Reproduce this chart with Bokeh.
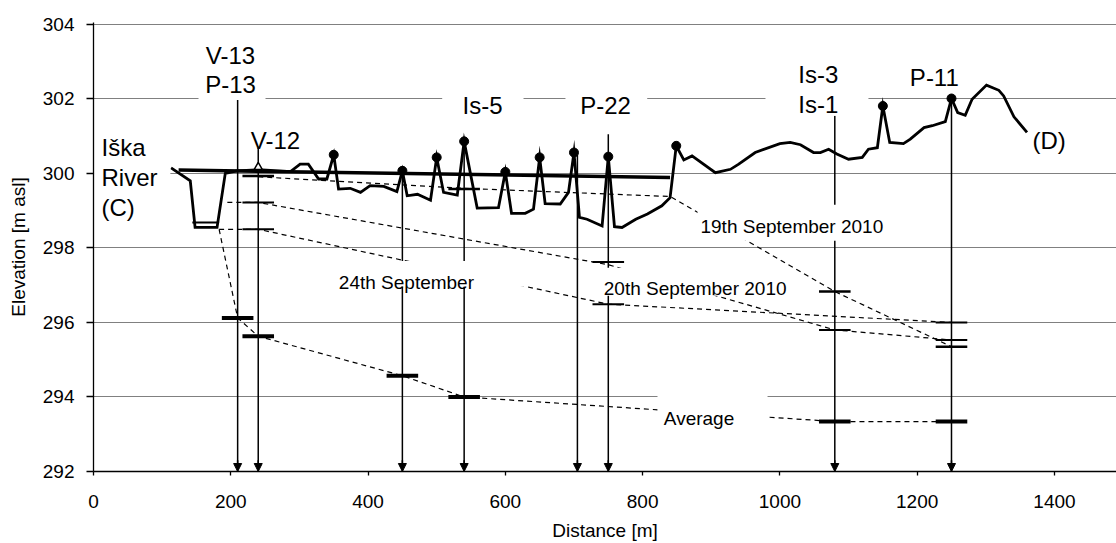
from bokeh.plotting import figure
from bokeh.models import Range1d, FixedTicker, Label, Arrow, NormalHead, ColumnDataSource
from bokeh.embed import file_html
from bokeh.resources import INLINE

# ---------------- data ----------------
terrain_x = [113, 141, 148, 180, 192, 209, 240, 287, 301, 313, 328, 340, 350, 357, 374, 389, 403, 423, 442, 450,
             457, 472, 491, 500, 510, 530, 540, 559, 590, 600, 609, 629, 641, 650, 658, 680, 692, 700, 708, 719,
             741, 750, 759, 770, 790, 807, 828, 840, 849, 860, 872, 906, 928, 940, 964, 1000, 1015, 1030, 1049, 1059,
             1071, 1083, 1100, 1120, 1129, 1142, 1150, 1160, 1180, 1190, 1210, 1222, 1241, 1250, 1259, 1270, 1280,
             1301, 1319, 1326, 1341, 1360]
terrain_y = [300.15, 299.8, 298.55, 298.55, 300.0, 300.07, 300.1, 300.05, 300.25, 300.25, 299.85, 299.85, 300.5,
             299.58, 299.6, 299.49, 299.67, 299.65, 299.51, 300.07, 299.4, 299.44, 299.28, 300.43, 299.49, 299.42,
             300.86, 299.07, 299.08, 300.04, 298.93, 298.93, 299.04, 300.43, 299.19, 299.18, 299.49, 300.56, 298.82,
             298.77, 298.59, 300.45, 298.57, 298.55, 298.77, 298.91, 299.13, 299.35, 300.74, 300.36, 300.47, 300.02,
             300.11, 300.25, 300.56, 300.8, 300.83, 300.77, 300.56, 300.56, 300.65, 300.52, 300.38, 300.43, 300.65,
             300.69, 301.81, 300.83, 300.8, 300.92, 301.23, 301.28, 301.39, 302.01, 301.63, 301.56, 301.99, 302.37,
             302.23, 302.08, 301.52, 301.1]

peak_x = [350, 450, 500, 540, 600, 650, 700, 750, 849, 1150, 1250]
peak_y = [300.5, 300.07, 300.43, 300.86, 300.04, 300.43, 300.56, 300.45, 300.74, 301.81, 302.01]

bank_x = [124, 840]
bank_y = [300.09, 299.89]

river_level_x = [144, 183]
river_level_y = [298.68, 298.68]

v12_mark_x = [240]
v12_mark_y = [300.17]

well_x = [210, 240, 450, 540, 705, 750, 1080, 1250]
well_top = [302.0, 300.69, 300.07, 300.86, 300.5, 301.05, 301.55, 302.01]

# water levels per date (dashed lines) and measured levels (bars)
line19_x = [240, 540, 840, 1080, 1250]
line19_y = [299.91, 299.6, 299.38, 296.83, 295.35]
bar19_x = [240, 540, 1080, 1250]
bar19_y = [299.93, 299.58, 296.83, 295.35]

line20_x = [195, 240, 750, 1080, 1250]
line20_y = [299.22, 299.22, 297.55, 295.8, 295.53]
bar20_x = [240, 750, 1080, 1250]
bar20_y = [299.22, 297.62, 295.8, 295.53]

line24_x = [183, 240, 750, 1250]
line24_y = [298.5, 298.5, 296.49, 296.0]
bar24_x = [240, 750, 1250]
bar24_y = [298.5, 296.49, 296.0]

avg_x = [183, 210, 240, 450, 540, 1080, 1250]
avg_y = [298.5, 296.12, 295.63, 294.57, 294.0, 293.34, 293.34]
baravg_x = [210, 240, 450, 540, 1080, 1250]
baravg_y = [296.12, 295.63, 294.57, 294.0, 293.34, 293.34]

y_ticks = [292, 294, 296, 298, 300, 302, 304]
x_ticks = [0, 200, 400, 600, 800, 1000, 1200, 1400]

FONT = "Liberation Sans"

# ---------------- figure ----------------
p = figure(width=1116, height=543, output_backend="svg", toolbar_location=None,
           x_range=Range1d(0, 1490.4), y_range=Range1d(292, 304.05),
           min_border_left=93, min_border_right=0, min_border_top=22, min_border_bottom=72)
p.outline_line_color = None
p.background_fill_color = "white"
p.border_fill_color = "white"

p.xgrid.grid_line_color = None
p.ygrid.ticker = FixedTicker(ticks=y_ticks)
p.ygrid.grid_line_color = "#808080"
p.ygrid.grid_line_width = 1.2

for ax in (p.xaxis[0], p.yaxis[0]):
    ax.axis_line_color = "black"
    ax.axis_line_width = 1.3
    ax.major_tick_line_color = "black"
    ax.major_tick_line_width = 1.3
    ax.minor_tick_line_color = None
    ax.major_tick_in = 0
    ax.major_label_text_font = FONT
    ax.major_label_text_font_size = "19px"
    ax.major_label_text_color = "black"
    ax.axis_label_text_font = FONT
    ax.axis_label_text_font_size = "19px"
    ax.axis_label_text_font_style = "normal"
    ax.axis_label_text_color = "black"

p.xaxis.ticker = FixedTicker(ticks=x_ticks)
p.yaxis.ticker = FixedTicker(ticks=y_ticks)
p.xaxis.major_tick_out = 4
p.yaxis.major_tick_out = 7
p.xaxis.major_label_standoff = 19
p.yaxis.major_label_standoff = 12
p.xaxis.axis_label = "Distance [m]"
p.yaxis.axis_label = "Elevation [m asl]"
p.xaxis.axis_label_standoff = 9
p.yaxis.axis_label_standoff = 11

# dashed water-table lines
dash = "5 4"
for lx, ly in ((line19_x, line19_y), (line20_x, line20_y), (line24_x, line24_y), (avg_x, avg_y)):
    p.line(lx, ly, line_color="black", line_width=1.2, line_dash=dash)

# measured level bars
HALF = 23
def bars(bx, by, w):
    p.segment(x0=[x - HALF for x in bx], y0=by, x1=[x + HALF for x in bx], y1=by,
              line_color="black", line_width=w)

bars(bar19_x, bar19_y, 2.5)
bars(bar20_x, bar20_y, 2)
bars(bar24_x, bar24_y, 2)
bars(baravg_x, baravg_y, 4)
p.line(river_level_x, river_level_y, line_color="black", line_width=2)

# wells
p.segment(x0=well_x, y0=well_top, x1=well_x, y1=[292] * len(well_x), line_color="black", line_width=1.5)

# terrain and bank line
p.line(terrain_x, terrain_y, line_color="black", line_width=2.8, line_join="miter")
p.line(bank_x, bank_y, line_color="black", line_width=3.5)
p.scatter(peak_x, peak_y, size=9, marker="circle", fill_color="black", line_color="black")
p.scatter(v12_mark_x, v12_mark_y, size=8, marker="triangle", fill_color="white", line_color="black", line_width=1.5)

# white boxes behind labels
box_l = [153, 508, 687.6, 979, 0.8, 880, 342, 735.7, 821.7]
box_r = [250.6, 626.5, 806.7, 1129, 112, 1158, 632, 1013, 982]
box_b = [301.97, 301.63, 301.63, 301.55, 298.86, 298.19, 296.96, 296.72, 293.09]
box_t = [303.83, 302.43, 302.43, 303.6, 301.41, 299.16, 297.65, 297.47, 294.09]
p.quad(left=box_l, right=box_r, bottom=box_b, top=box_t, fill_color="white", line_color=None)

# arrow heads at the bottom of the wells
src = ColumnDataSource(dict(x=well_x, y0=[292.3] * len(well_x), y1=[292.0] * len(well_x)))
p.add_layout(Arrow(end=NormalHead(size=8, fill_color="black", line_color="black", line_width=1),
                   x_start="x", y_start="y0", x_end="x", y_end="y1", source=src,
                   line_color="black", line_width=1.5))

def lab(x, y, t, size="24px", align="center"):
    p.add_layout(Label(x=x, y=y, text=t, text_font=FONT, text_font_size=size, text_color="black",
                       text_align=align, text_baseline="alphabetic"))

lab(199.6, 303.155, "V-13")
lab(199.6, 302.395, "P-13")
lab(265.2, 300.89, "V-12")
lab(11.7, 300.69, "Iška", align="left")
lab(11.7, 299.89, "River", align="left")
lab(11.7, 299.08, "(C)", align="left")
lab(566.7, 301.81, "Is-5")
lab(745.9, 301.81, "P-22")
lab(1056, 302.66, "Is-3")
lab(1056, 301.86, "Is-1")
lab(1225, 302.57, "P-11")
lab(1368, 300.87, "(D)", align="left")
lab(884.3, 298.57, "19th  September 2010", size="19px", align="left")
lab(357.4, 297.07, "24th  September", size="19px", align="left")
lab(743.4, 296.9, "20th  September 2010", size="19px", align="left")
lab(830.9, 293.41, "Average", size="19px", align="left")

open("out.html", "w").write(file_html(p, INLINE))
